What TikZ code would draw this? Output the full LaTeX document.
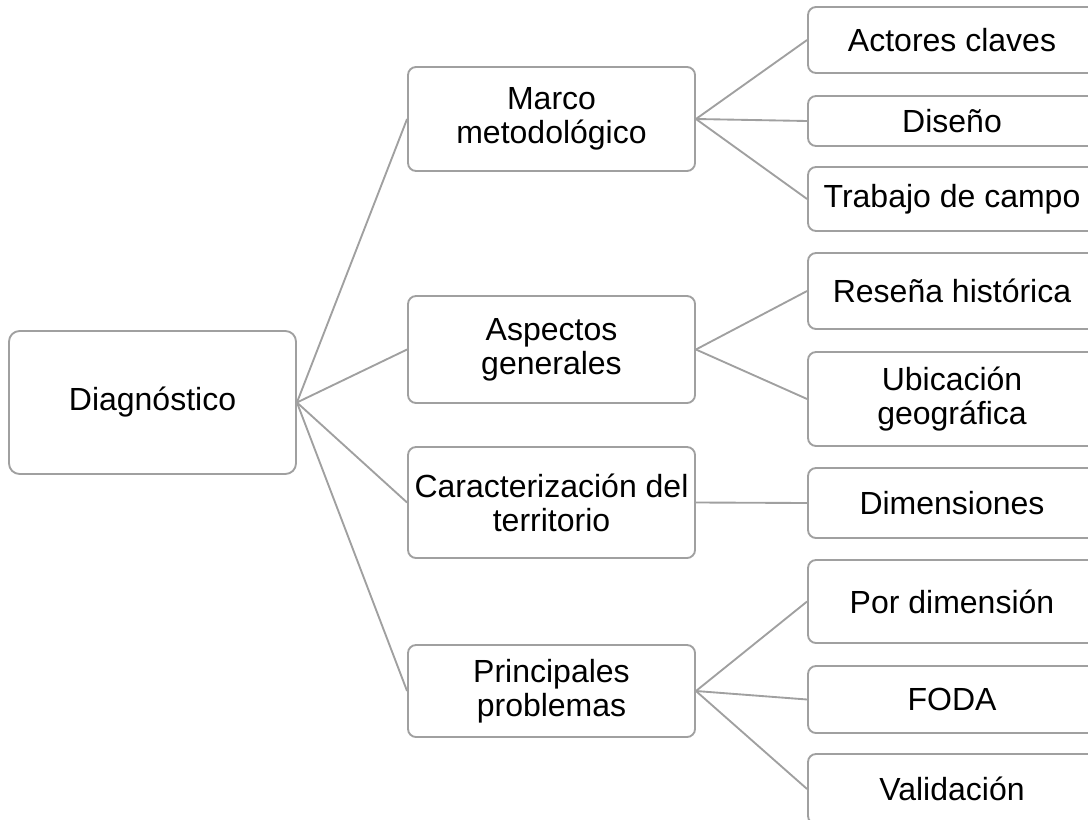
\documentclass[tikz,border=0pt]{standalone}
\usepackage{fontspec}
\setmainfont{Liberation Sans}
\definecolor{linegray}{RGB}{160,160,160}
\begin{document}
\begin{tikzpicture}[x=0.75pt,y=-0.75pt,
  box/.style={draw=linegray,line width=1.4pt,rounded corners=6pt,fill=white,
    align=center,inner sep=0pt,font=\fontsize{24}{25.5}\selectfont},
  lvltwo/.style={box,minimum width=215.25pt},
  lvlthree/.style={box,minimum width=216pt},
  conn/.style={draw=linegray,line width=1.4pt}]
\useasboundingbox (0,0) rectangle (1088,820);
\clip (0,0) rectangle (1088,820);
\node[box,minimum width=215.25pt,minimum height=107.25pt,rounded corners=8pt] (root) at (152.5,402.5) {Diagnóstico};
\node[lvltwo,minimum height=78pt] (marco) at (551.5,119) {Marco\\metodológico};
\node[lvltwo,minimum height=80.25pt] (asp) at (551.5,349.5) {Aspectos\\generales};
\node[lvltwo,minimum height=83.25pt] (car) at (551.5,502.5) {Caracterización del\\territorio};
\node[lvltwo,minimum height=69pt] (pri) at (551.5,691) {Principales\\problemas};
\node[lvlthree,minimum height=49.5pt] (act) at (952,40) {Actores claves};
\node[lvlthree,minimum height=37.5pt] (dis) at (952,121) {Diseño};
\node[lvlthree,minimum height=48pt] (tra) at (952,199) {Trabajo de campo};
\node[lvlthree,minimum height=57pt] (res) at (952,291) {Reseña histórica};
\node[lvlthree,minimum height=70.5pt] (ubi) at (952,399) {Ubicación\\geográfica};
\node[lvlthree,minimum height=52.5pt] (dim) at (952,503) {Dimensiones};
\node[lvlthree,minimum height=62.25pt] (por) at (952,601.5) {Por dimensión};
\node[lvlthree,minimum height=50.25pt] (foda) at (952,699.5) {FODA};
\node[lvlthree,minimum height=52.5pt] (val) at (952,789) {Validación};
\foreach \t in {marco,asp,car,pri} \draw[conn] (root.east) -- (\t.west);
\foreach \t in {act,dis,tra} \draw[conn] (marco.east) -- (\t.west);
\foreach \t in {res,ubi} \draw[conn] (asp.east) -- (\t.west);
\draw[conn] (car.east) -- (dim.west);
\foreach \t in {por,foda,val} \draw[conn] (pri.east) -- (\t.west);
\end{tikzpicture}
\end{document}
